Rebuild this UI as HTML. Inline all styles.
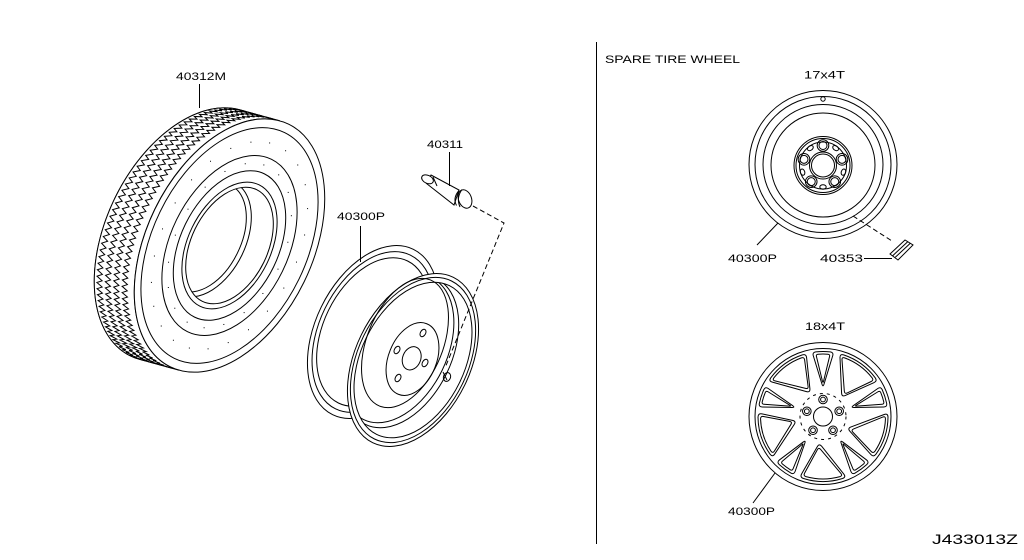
<!DOCTYPE html>
<html><head><meta charset="utf-8"><title>Wheel &amp; tire diagram</title>
<style>
html,body{margin:0;padding:0;background:#fff;width:1024px;height:560px;overflow:hidden}
svg{display:block}
text{font-family:"Liberation Sans",Arial,sans-serif;font-size:11px;fill:#000;stroke:none}
</style></head><body>
<svg id="svg" xmlns="http://www.w3.org/2000/svg" width="1024" height="560" viewBox="0 0 1024 560">
<defs>
  <clipPath id="holeClip"><ellipse cx="229.5" cy="245.5" rx="38.2" ry="62.1" transform="rotate(26 229.5 245.5)"/></clipPath>
  <clipPath id="rimClip"><ellipse cx="413" cy="360" rx="51.75" ry="82.8" transform="rotate(26 413 360)"/></clipPath>
</defs>
<rect width="1024" height="560" fill="#fff"/>

<!-- TIRE -->
<g id="tireBack" fill="#fff" stroke="#000" stroke-width="1">
  <ellipse cx="189.5" cy="234.5" rx="83" ry="135" transform="rotate(26 189.5 234.5)"/>
</g>
<g id="tireBand" stroke="#000" stroke-width="1"></g>
<g id="tireFace" fill="none" stroke="#000" stroke-width="1">
  <g transform="rotate(26 229.5 245.5)">
    <ellipse cx="229.5" cy="245.5" rx="83" ry="135" fill="#fff"/>
    <ellipse cx="229.5" cy="245.5" rx="77.2" ry="125.6"/>
    <ellipse cx="229.5" cy="245.5" rx="58.9" ry="95.9"/>
    <ellipse cx="229.5" cy="245.5" rx="49" ry="79.7"/>
    <ellipse cx="229.5" cy="245.5" rx="41.5" ry="67.5"/>
    <ellipse cx="229.5" cy="245.5" rx="38.2" ry="62.1"/>
  </g>
  <g clip-path="url(#holeClip)">
    <ellipse cx="207.5" cy="238.5" rx="38.2" ry="62.1" transform="rotate(26 207.5 238.5)"/>
    <ellipse cx="205.5" cy="237.5" rx="35.5" ry="58" transform="rotate(26 205.5 237.5)"/>
  </g>
</g>
<g id="tireDots"></g>

<!-- WHEEL -->
<g id="wheel" fill="#fff" stroke="#000" stroke-width="1">
  <ellipse cx="373" cy="332" rx="57.5" ry="92" transform="rotate(26 373 332)"/>
  <ellipse cx="373" cy="332" rx="53.5" ry="85.5" transform="rotate(26 373 332)" fill="none"/>
  <ellipse cx="373" cy="332" rx="49.5" ry="79" transform="rotate(26 373 332)" fill="none"/>
  <ellipse cx="413" cy="360" rx="57.5" ry="92" transform="rotate(26 413 360)"/>
  <ellipse cx="413" cy="360" rx="54.9" ry="87.9" transform="rotate(26 413 360)" fill="none"/>
  <ellipse cx="413" cy="360" rx="51.75" ry="82.8" transform="rotate(26 413 360)" fill="none"/>
  <g clip-path="url(#rimClip)" fill="none">
    <ellipse cx="401" cy="351.6" rx="50.6" ry="81" transform="rotate(26 401 351.6)"/>
    <ellipse cx="398" cy="349" rx="49" ry="78.5" transform="rotate(26 398 349)"/>
  </g>
  <ellipse cx="405" cy="343" rx="38" ry="68" transform="rotate(22 405 343)" fill="none"/>
  <ellipse cx="412.5" cy="359" rx="24" ry="38" transform="rotate(22 412.5 359)" fill="none"/>
  <ellipse cx="411.7" cy="358.3" rx="9" ry="12" transform="rotate(22 411.7 358.3)" fill="none"/>
  <ellipse cx="397" cy="350" rx="2.6" ry="4" transform="rotate(30 397 350)" fill="none"/>
  <ellipse cx="423" cy="333" rx="2.6" ry="4" transform="rotate(30 423 333)" fill="none"/>
  <ellipse cx="425" cy="363" rx="2.6" ry="4" transform="rotate(30 425 363)" fill="none"/>
  <ellipse cx="398" cy="378" rx="2.6" ry="4" transform="rotate(30 398 378)" fill="none"/>
  <ellipse cx="447" cy="377" rx="3.5" ry="4.5" transform="rotate(20 447 377)" fill="none"/>
  <path d="M443,372 L447,380" fill="none"/>
</g>

<!-- VALVE 40311 -->
<g fill="#fff" stroke="#000" stroke-width="1">
  <path d="M431,175 L459,190 L454,205 L426.5,183.5 Z"/>
  <ellipse cx="465" cy="199" rx="6.5" ry="9.5" transform="rotate(-20 465 199)"/>
  <path d="M459,190.5 Q452.5,198 456.5,205.5" fill="none"/>
  <path d="M462,189.5 Q456,198 460,207" fill="none"/>
  <path d="M433,177 L437,186" fill="none"/>
  <ellipse cx="427.5" cy="179.3" rx="6.2" ry="4" transform="rotate(25 427.5 179.3)"/>
</g>

<g fill="none" stroke="#000" stroke-width="1">
  <!-- leaders left -->
  <path d="M199.5,84 V108"/>
  <path d="M449.5,152 V186"/>
  <path d="M360.5,226 V262"/>
  <path d="M473,206 L504,223 L445,368" stroke-dasharray="5 3"/>
  <!-- divider -->
  <path d="M596.5,42 V544"/>

  <!-- SPARE 17x4T -->
  <circle cx="823" cy="164.5" r="74"/>
  <circle cx="823" cy="164.5" r="68"/>
  <circle cx="823" cy="164.5" r="60"/>
  <circle cx="823" cy="165" r="52"/>
  <circle cx="823" cy="99" r="2.2"/>
  <g transform="translate(823,165.5)">
    <circle r="29"/><circle r="27"/><circle r="23.5"/>
    <circle r="13.5"/><circle r="11.5"/>
    <circle cx="0" cy="-20" r="4"/><circle cx="0" cy="-20" r="5.8"/>
    <circle cx="19.02" cy="-6.18" r="4"/><circle cx="19.02" cy="-6.18" r="5.8"/>
    <circle cx="11.76" cy="16.18" r="4"/><circle cx="11.76" cy="16.18" r="5.8"/>
    <circle cx="-11.76" cy="16.18" r="4"/><circle cx="-11.76" cy="16.18" r="5.8"/>
    <circle cx="-19.02" cy="-6.18" r="4"/><circle cx="-19.02" cy="-6.18" r="5.8"/>
    <ellipse cx="20.45" cy="6.64" rx="2.2" ry="3.2" transform="rotate(18 20.45 6.64)"/>
    <ellipse cx="0" cy="21.5" rx="3.2" ry="2.2"/>
    <ellipse cx="-20.45" cy="6.64" rx="2.2" ry="3.2" transform="rotate(-18 -20.45 6.64)"/>
    <ellipse cx="-12.64" cy="-17.39" rx="2.2" ry="3.2" transform="rotate(54 -12.64 -17.39)"/>
    <ellipse cx="12.64" cy="-17.39" rx="2.2" ry="3.2" transform="rotate(-54 12.64 -17.39)"/>
  </g>
  <path d="M757,245 L778,223"/>
  <path d="M853,216 L892,241" stroke-dasharray="5 3"/>
  <path d="M864,258.5 H892"/>
  <!-- 40353 valve piece -->
  <path d="M890,254 L905,240 L913,245 L898,260 Z" fill="#fff"/>
  <path d="M892.7,255.7 L907.7,241.7 M895.3,257.3 L910.3,243.3"/>

  <!-- 18x4T -->
  <circle cx="823" cy="416.5" r="74"/>
  <circle cx="823" cy="416.5" r="68"/>
  <circle cx="823" cy="416.5" r="23" stroke-dasharray="3 4"/>
  <circle cx="823" cy="416.5" r="9.5"/>
  <g transform="translate(823,416.5)">
    <circle cx="0" cy="-17" r="4.3"/><circle cx="0" cy="-17" r="2.4"/>
    <circle cx="16.17" cy="-5.25" r="4.3"/><circle cx="16.17" cy="-5.25" r="2.4"/>
    <circle cx="9.99" cy="13.75" r="4.3"/><circle cx="9.99" cy="13.75" r="2.4"/>
    <circle cx="-9.99" cy="13.75" r="4.3"/><circle cx="-9.99" cy="13.75" r="2.4"/>
    <circle cx="-16.17" cy="-5.25" r="4.3"/><circle cx="-16.17" cy="-5.25" r="2.4"/>
  </g>
  <path d="M753,503 L775,473"/>
</g>
<g id="w18" fill="none" stroke="#000" stroke-width="1"></g>

<!-- LABELS -->
<g>
  <text x="176" y="80" textLength="50" lengthAdjust="spacingAndGlyphs">40312M</text>
  <text x="427" y="148" textLength="36" lengthAdjust="spacingAndGlyphs">40311</text>
  <text x="337" y="220" textLength="48" lengthAdjust="spacingAndGlyphs">40300P</text>
  <text x="605" y="63" textLength="135" lengthAdjust="spacingAndGlyphs">SPARE TIRE WHEEL</text>
  <text x="804" y="78.5" textLength="41" lengthAdjust="spacingAndGlyphs">17x4T</text>
  <text x="728" y="262" textLength="49" lengthAdjust="spacingAndGlyphs">40300P</text>
  <text x="820" y="262" textLength="43" lengthAdjust="spacingAndGlyphs">40353</text>
  <text x="805" y="330" textLength="40" lengthAdjust="spacingAndGlyphs">18x4T</text>
  <text x="728" y="515" textLength="47" lengthAdjust="spacingAndGlyphs">40300P</text>
  <text x="932" y="544" textLength="86" lengthAdjust="spacingAndGlyphs" style="font-size:13.5px">J433013Z</text>
</g>
</svg>
<script>
(function(){
var NS="http://www.w3.org/2000/svg";
function el(p,tag,a){var e=document.createElementNS(NS,tag);for(var k in a)e.setAttribute(k,a[k]);p.appendChild(e);return e;}
function r2(n){return n.toFixed(2);}
function mk(cx,cy,rx,ry,rot){var t=rot*Math.PI/180,c=Math.cos(t),s=Math.sin(t);
 return {pt:function(phi,sc,dx,dy){var lx=sc*rx*Math.cos(phi),ly=sc*ry*Math.sin(phi);return [cx+dx+lx*c-ly*s,cy+dy+lx*s+ly*c];},
  vis:function(D){var A=(c*D[0]+s*D[1])/rx,B=(-s*D[0]+c*D[1])/ry;var a=Math.atan2(B,A);return [a-Math.PI/2,a+Math.PI/2];}};}
/* tire tread band */
var tb=document.getElementById('tireBand');
var T=mk(229.5,245.5,83,135,26), D=[-40,-11];
var v=T.vis(D),p0=v[0],p1=v[1];
var d='',N=240,i,q;
for(i=0;i<=N;i++){q=T.pt(p0+(p1-p0)*i/N,1,D[0],D[1]);d+=(i?'L':'M')+r2(q[0])+','+r2(q[1]);}
for(i=N;i>=0;i--){q=T.pt(p0+(p1-p0)*i/N,1,0,0);d+='L'+r2(q[0])+','+r2(q[1]);}
el(tb,'path',{d:d+'Z',fill:'#fff'});
var rows=[0.13,0.34,0.55,0.76],K=118,amp=0.065;
rows.forEach(function(t0,ri){var dd='';for(var j=0;j<=K;j++){var tt=t0+(((j+ri)%2)?amp:-amp);var f=1-tt;var qq=T.pt(p0+(p1-p0)*j/K,1,D[0]*f,D[1]*f);dd+=(j?'L':'M')+r2(qq[0])+','+r2(qq[1]);}el(tb,'path',{d:dd,fill:'none'});});
/* dots */
var fd=document.getElementById('tireDots');
[[0.65,24,0],[0.82,24,0.5]].forEach(function(a){var s=a[0],step=a[1],off=a[2];var n=Math.round(2*Math.PI*s*110/step);for(var j=0;j<n;j++){var qq=T.pt((j+off)/n*2*Math.PI,s,0,0);el(fd,'rect',{x:r2(qq[0]-0.5),y:r2(qq[1]-0.5),width:1,height:1,fill:'#000'});}});
/* 18x4T windows */
var g18=document.getElementById('w18'),cx=823,cy=416.5;
function wp(r,deg){var a=deg*Math.PI/180;return [cx+r*Math.cos(a),cy-r*Math.sin(a)];}
function tw(P,Q,dd){var dx=Q[0]-P[0],dy=Q[1]-P[1],L=Math.hypot(dx,dy);return [P[0]+dx/L*dd,P[1]+dy/L*dd];}
function P(p){return r2(p[0])+','+r2(p[1]);}
function win(c,half,ro,ri,io,rc){var dA=rc/ro*180/Math.PI;var A=wp(ro,c+half),B=wp(ro,c-half),I=wp(ri,c+io);var a1=wp(ro,c+half-dA),b1=wp(ro,c-half+dA);var b2=tw(B,I,rc),i1=tw(I,B,rc),i2=tw(I,A,rc),a2=tw(A,I,rc);
 return 'M'+P(a1)+'A'+ro+','+ro+' 0 0 1 '+P(b1)+'Q'+P(B)+' '+P(b2)+'L'+P(i1)+'Q'+P(I)+' '+P(i2)+'L'+P(a2)+'Q'+P(A)+' '+P(a1)+'Z';}
for(var k=0;k<5;k++){var cb=54+72*k,cn=90+72*k;
 el(g18,'path',{d:win(cb,21,65,27,-8,4)});
 el(g18,'path',{d:win(cb,18.5,62.5,31,-8,3)});
 el(g18,'path',{d:win(cn,9.5,65,29,0,3.5)});
 el(g18,'path',{d:win(cn,6.5,62.5,33,0,2.2)});
}
})();
</script>
</body></html>
